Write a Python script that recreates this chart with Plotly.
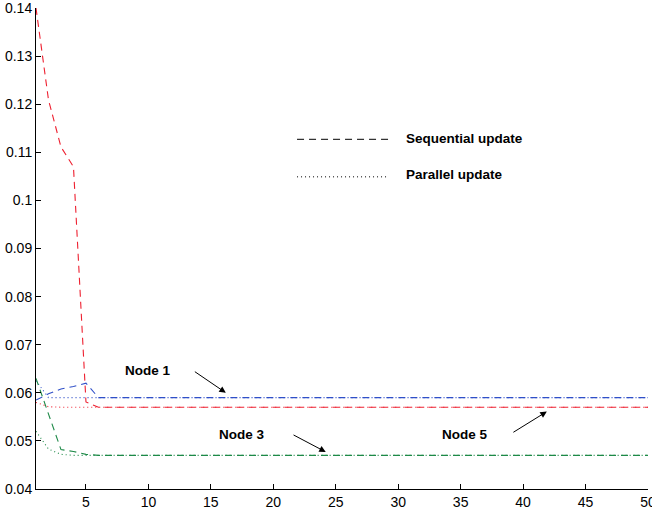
import plotly.graph_objects as go

# Iteration index
iterations = list(range(1, 51))

# Node 1 (blue)
node1_sequential = [0.0585, 0.0598, 0.0608, 0.0613, 0.0620, 0.0590, 0.0590, 0.0590, 0.0590, 0.0590,
                    0.0590, 0.0590, 0.0590, 0.0590, 0.0590, 0.0590, 0.0590, 0.0590, 0.0590, 0.0590,
                    0.0590, 0.0590, 0.0590, 0.0590, 0.0590, 0.0590, 0.0590, 0.0590, 0.0590, 0.0590,
                    0.0590, 0.0590, 0.0590, 0.0590, 0.0590, 0.0590, 0.0590, 0.0590, 0.0590, 0.0590,
                    0.0590, 0.0590, 0.0590, 0.0590, 0.0590, 0.0590, 0.0590, 0.0590, 0.0590, 0.0590]
node1_parallel = [0.0625, 0.0590, 0.0590, 0.0590, 0.0590, 0.0590, 0.0590, 0.0590, 0.0590, 0.0590,
                  0.0590, 0.0590, 0.0590, 0.0590, 0.0590, 0.0590, 0.0590, 0.0590, 0.0590, 0.0590,
                  0.0590, 0.0590, 0.0590, 0.0590, 0.0590, 0.0590, 0.0590, 0.0590, 0.0590, 0.0590,
                  0.0590, 0.0590, 0.0590, 0.0590, 0.0590, 0.0590, 0.0590, 0.0590, 0.0590, 0.0590,
                  0.0590, 0.0590, 0.0590, 0.0590, 0.0590, 0.0590, 0.0590, 0.0590, 0.0590, 0.0590]

# Node 5 (red)
node5_sequential = [0.1400, 0.1209, 0.1111, 0.1070, 0.0581, 0.0570, 0.0570, 0.0570, 0.0570, 0.0570,
                    0.0570, 0.0570, 0.0570, 0.0570, 0.0570, 0.0570, 0.0570, 0.0570, 0.0570, 0.0570,
                    0.0570, 0.0570, 0.0570, 0.0570, 0.0570, 0.0570, 0.0570, 0.0570, 0.0570, 0.0570,
                    0.0570, 0.0570, 0.0570, 0.0570, 0.0570, 0.0570, 0.0570, 0.0570, 0.0570, 0.0570,
                    0.0570, 0.0570, 0.0570, 0.0570, 0.0570, 0.0570, 0.0570, 0.0570, 0.0570, 0.0570]
node5_parallel = [0.0580, 0.0571, 0.0570, 0.0570, 0.0570, 0.0570, 0.0570, 0.0570, 0.0570, 0.0570,
                  0.0570, 0.0570, 0.0570, 0.0570, 0.0570, 0.0570, 0.0570, 0.0570, 0.0570, 0.0570,
                  0.0570, 0.0570, 0.0570, 0.0570, 0.0570, 0.0570, 0.0570, 0.0570, 0.0570, 0.0570,
                  0.0570, 0.0570, 0.0570, 0.0570, 0.0570, 0.0570, 0.0570, 0.0570, 0.0570, 0.0570,
                  0.0570, 0.0570, 0.0570, 0.0570, 0.0570, 0.0570, 0.0570, 0.0570, 0.0570, 0.0570]

# Node 3 (green)
node3_sequential = [0.0630, 0.0556, 0.0482, 0.0478, 0.0472, 0.0470, 0.0470, 0.0470, 0.0470, 0.0470,
                    0.0470, 0.0470, 0.0470, 0.0470, 0.0470, 0.0470, 0.0470, 0.0470, 0.0470, 0.0470,
                    0.0470, 0.0470, 0.0470, 0.0470, 0.0470, 0.0470, 0.0470, 0.0470, 0.0470, 0.0470,
                    0.0470, 0.0470, 0.0470, 0.0470, 0.0470, 0.0470, 0.0470, 0.0470, 0.0470, 0.0470,
                    0.0470, 0.0470, 0.0470, 0.0470, 0.0470, 0.0470, 0.0470, 0.0470, 0.0470, 0.0470]
node3_parallel = [0.0520, 0.0483, 0.0472, 0.0470, 0.0470, 0.0470, 0.0470, 0.0470, 0.0470, 0.0470,
                  0.0470, 0.0470, 0.0470, 0.0470, 0.0470, 0.0470, 0.0470, 0.0470, 0.0470, 0.0470,
                  0.0470, 0.0470, 0.0470, 0.0470, 0.0470, 0.0470, 0.0470, 0.0470, 0.0470, 0.0470,
                  0.0470, 0.0470, 0.0470, 0.0470, 0.0470, 0.0470, 0.0470, 0.0470, 0.0470, 0.0470,
                  0.0470, 0.0470, 0.0470, 0.0470, 0.0470, 0.0470, 0.0470, 0.0470, 0.0470, 0.0470]

x_tick_values = [5, 10, 15, 20, 25, 30, 35, 40, 45, 50]
y_tick_values = [0.04, 0.05, 0.06, 0.07, 0.08, 0.09, 0.10, 0.11, 0.12, 0.13, 0.14]
y_tick_labels = ["0.04", "0.05", "0.06", "0.07", "0.08", "0.09", "0.1", "0.11", "0.12", "0.13", "0.14"]

legend_labels = ["Sequential update", "Parallel update"]
node_labels = ["Node 1", "Node 3", "Node 5"]

RED = "#ee2030"
BLUE = "#3050c8"
GREEN = "#1e8a48"
DASH = "7px,5px"
DOT = "1px,3px"
FONT = "Liberation Sans, Arial, Helvetica, sans-serif"

fig = go.Figure()

series = [
    (node5_sequential, RED, DASH),
    (node5_parallel, RED, DOT),
    (node1_sequential, BLUE, DASH),
    (node1_parallel, BLUE, DOT),
    (node3_sequential, GREEN, DASH),
    (node3_parallel, GREEN, DOT),
]
for values, color, dash in series:
    fig.add_trace(go.Scatter(
        x=iterations, y=values, mode="lines",
        line=dict(color=color, width=1.1, dash=dash),
        showlegend=False, hoverinfo="skip",
    ))

# Hand-drawn legend: line samples with bold captions
legend_x0, legend_x1, legend_text_x = 21.9, 29.2, 30.5
legend_rows = [(0.1127, 0.1128, DASH), (0.1049, 0.1054, DOT)]
annotations = []
shapes = []
for (ly, ty, dash), label in zip(legend_rows, legend_labels):
    shapes.append(dict(type="line", xref="x", yref="y",
                       x0=legend_x0, x1=legend_x1, y0=ly, y1=ly,
                       line=dict(color="black", width=1, dash=dash)))
    annotations.append(dict(x=legend_text_x, y=ty, xref="x", yref="y",
                            text=f"<b>{label}</b>", showarrow=False,
                            xanchor="left", yanchor="middle",
                            font=dict(family=FONT, size=13.5, color="black")))

# Node labels with arrows pointing at the converged curves
node_callouts = [
    # label position, arrow tail, arrow head
    ((9.97, 0.0646), (13.6, 0.0646), (16.2, 0.0600)),
    ((17.5, 0.0513), (21.5, 0.0514), (24.2, 0.0477)),
    ((35.35, 0.0513), (39.1, 0.0516), (41.9, 0.0561)),
]
for label, (pos, tail, head) in zip(node_labels, node_callouts):
    annotations.append(dict(x=pos[0], y=pos[1], xref="x", yref="y",
                            text=f"<b>{label}</b>", showarrow=False,
                            xanchor="center", yanchor="middle",
                            font=dict(family=FONT, size=13.5, color="black")))
    annotations.append(dict(x=head[0], y=head[1], ax=tail[0], ay=tail[1],
                            xref="x", yref="y", axref="x", ayref="y",
                            text="", showarrow=True, arrowhead=2,
                            arrowsize=1.3, arrowwidth=1, arrowcolor="black"))

fig.update_layout(
    width=652, height=512,
    margin=dict(l=36, r=4, t=8, b=23),
    paper_bgcolor="white", plot_bgcolor="white",
    font=dict(family=FONT, size=14, color="black"),
    shapes=shapes, annotations=annotations,
)
fig.update_xaxes(
    range=[1, 50], tickmode="array", tickvals=x_tick_values,
    ticks="inside", ticklen=5, tickcolor="black",
    showline=True, linecolor="black", linewidth=1,
    showgrid=False, zeroline=False, mirror=False,
    ticklabeloverflow="allow", automargin=False,
    tickfont=dict(family=FONT, size=14, color="black"),
)
fig.update_yaxes(
    range=[0.04, 0.14], tickmode="array", tickvals=y_tick_values, ticktext=y_tick_labels,
    ticks="inside", ticklen=5, tickcolor="black",
    showline=True, linecolor="black", linewidth=1,
    showgrid=False, zeroline=False, mirror=False,
    ticklabeloverflow="allow", automargin=False,
    tickfont=dict(family=FONT, size=14, color="black"),
)

fig.write_html("out.html")
